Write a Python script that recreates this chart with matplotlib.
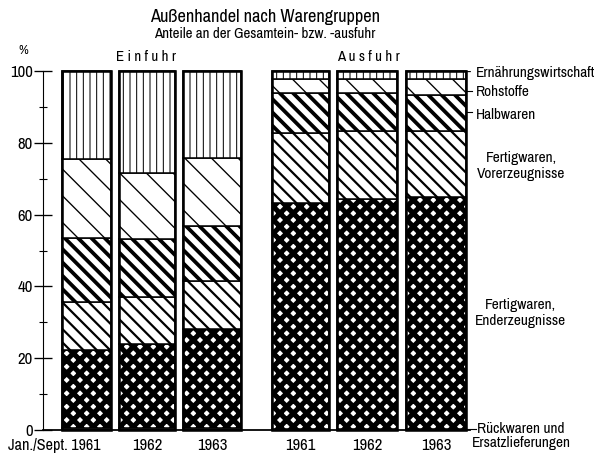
import numpy as np
import matplotlib.pyplot as plt

plt.rcParams['font.family'] = ['Archivo Narrow', 'DejaVu Sans']

# Anteile in % (Einfuhr 1961-1963, Ausfuhr 1961-1963), von unten nach oben
jahre = ['Jan./Sept. 1961', '1962', '1963', '1961', '1962', '1963']
rueckwaren = [0.5, 0.5, 0.5, 0.3, 0.3, 0.3]
enderzeugnisse = [21.8, 23.5, 27.6, 63.0, 64.0, 64.7]
vorerzeugnisse = [13.4, 13.1, 13.4, 19.5, 19.0, 18.3]
halbwaren = [17.7, 16.0, 15.4, 11.0, 10.5, 10.0]
rohstoffe = [22.0, 18.6, 18.8, 3.9, 4.0, 4.5]
ernaehrung = [24.6, 28.3, 24.3, 2.3, 2.2, 2.2]

# Lage der Saeulen (Pixelraster der Vorlage)
xpos = [86.5, 147, 212, 300, 367, 436]
breite = [49, 56, 58, 57, 60, 60]

serien = [rueckwaren, enderzeugnisse, vorerzeugnisse, halbwaren, rohstoffe, ernaehrung]
muster = [('', 1.0), ('xx', 4.6), ('\\\\', 2.0), ('\\\\', 3.4), ('\\', 1.2), ('||', 0.9)]

fig = plt.figure(figsize=(601 / 80, 455 / 80), dpi=80)
ax = fig.add_axes([43 / 601, 25 / 455, (470 - 43) / 601, (430 - 71) / 455])
ax.set_xlim(43, 470)
ax.set_ylim(0, 100)

unten = np.zeros(len(xpos))
for werte, (h, hlw) in zip(serien, muster):
    plt.rcParams['hatch.linewidth'] = hlw
    bars = ax.bar(xpos, werte, width=breite, bottom=unten, facecolor='white',
                  edgecolor='black', linewidth=1.4, hatch=h, clip_on=False)
    for b in bars:
        if hasattr(b, 'set_hatch_linewidth'):
            b.set_hatch_linewidth(hlw)
    unten += np.array(werte)

# dicker Rahmen um jede Saeule
ax.bar(xpos, unten, width=breite, fill=False, edgecolor='black', linewidth=2.3, clip_on=False)

for s in ['top', 'right']:
    ax.spines[s].set_visible(False)
ax.spines['left'].set_linewidth(1.0)
ax.spines['bottom'].set_linewidth(1.6)
ax.set_xticks([])
ax.set_yticks([0, 20, 40, 60, 80, 100])
ax.set_yticks([10, 30, 50, 70, 90], minor=True)
ax.tick_params(axis='y', which='major', direction='inout', length=16, width=1.2,
               labelsize=15, pad=1)
ax.tick_params(axis='y', which='minor', direction='inout', length=7, width=1.0)

# Jahresbeschriftung
for i, (x, lab) in enumerate(zip(xpos, jahre)):
    if i == 0:
        ax.text(x + 14, -4.4, lab, ha='right', va='center', fontsize=14.5, clip_on=False)
    else:
        ax.text(x, -4.4, lab, ha='center', va='center', fontsize=15, clip_on=False)

def ftext(x, y, s, **kw):
    fig.text(x / 601, 1 - y / 455, s, **kw)

ftext(265, 17, 'Außenhandel nach Warengruppen', ha='center', va='center', fontsize=16.5)
ftext(265, 34, 'Anteile an der Gesamtein- bzw. -ausfuhr', ha='center', va='center', fontsize=13.5)
ftext(23, 50, '%', ha='center', va='center', fontsize=12)
ftext(146, 57, 'E i n f u h r', ha='center', va='center', fontsize=13.5)
ftext(368, 57, 'A u s f u h r', ha='center', va='center', fontsize=13.5)

# Legende rechts
ftext(467, 73, '-', ha='left', va='center', fontsize=13.5)
ftext(476, 73, 'Ernährungswirtschaft', ha='left', va='center', fontsize=13.8)
ftext(476, 92, 'Rohstoffe', ha='left', va='center', fontsize=13.8)
ftext(476, 115, 'Halbwaren', ha='left', va='center', fontsize=13.8)
ftext(521, 166, 'Fertigwaren,\nVorerzeugnisse', ha='center', va='center', fontsize=13.8,
      linespacing=1.1)
ftext(520, 313, 'Fertigwaren,\nEnderzeugnisse', ha='center', va='center', fontsize=13.8,
      linespacing=1.1)
ftext(521, 436, 'Rückwaren und\nErsatzlieferungen', ha='center', va='center', fontsize=13.8,
      linespacing=1.0)
ax.plot([467, 472], [94.5, 94.5], color='black', lw=1, clip_on=False)
ax.plot([467, 472], [88.5, 88.5], color='black', lw=1, clip_on=False)
ax.plot([467, 476], [0.2, 0.2], color='black', lw=1, clip_on=False)

fig.savefig('out.png', dpi=80)
